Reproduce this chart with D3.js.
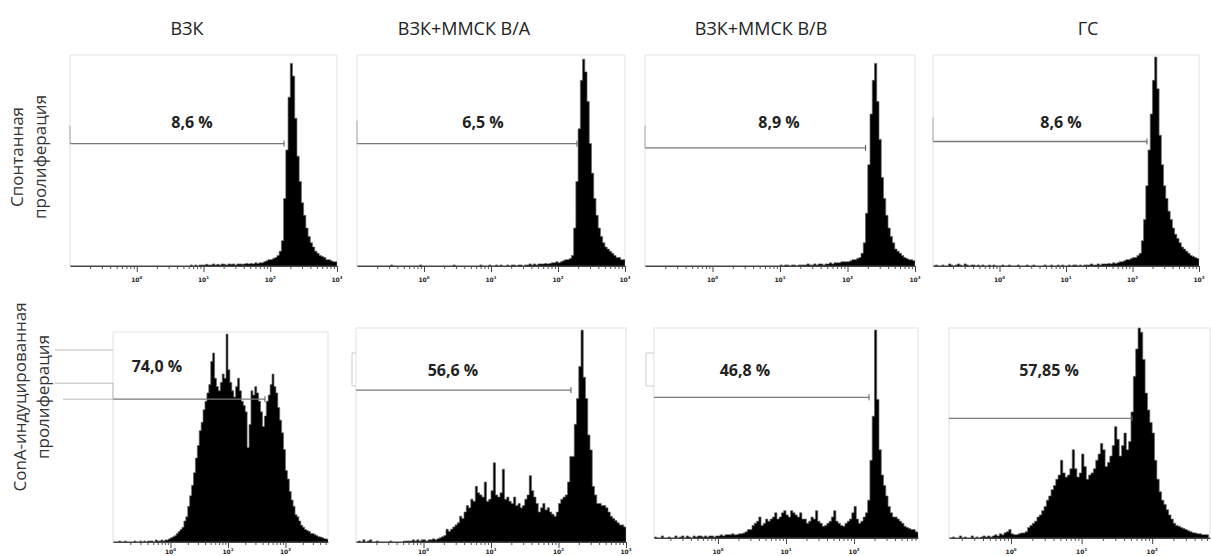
<!DOCTYPE html>
<html><head><meta charset="utf-8">
<script src="https://cdn.jsdelivr.net/npm/d3@7"></script>
<style>body{margin:0;background:#fff;} svg{display:block;} text{-webkit-font-smoothing:antialiased;}</style>
</head><body>
<svg id="c" width="1211" height="556"></svg>
<script>
// ---------- DATA ----------
const columnTitles = ["ВЗК", "ВЗК+ММСК В/А", "ВЗК+ММСК В/В", "ГС"];
const rowTitles = [["Спонтанная", "пролиферация"], ["ConA-индуцированная", "пролиферация"]];
const gatePercent = ["8,6 %", "6,5 %", "8,9 %", "8,6 %", "74,0 %", "56,6 %", "46,8 %", "57,85 %"];
const gateEnd = [161, 192, 185, 165, 44, 153, 166, 52];      // fluorescence (a.u.)
const gateLevel = [58, 58, 56, 59, 68, 71, 67, 57];           // % of max count
const tickExponents = [0, 1, 2, 3];
const binsPerDecade = 30;   // histogram bins start at 10^-1
const binStartExp = -1;

const histSpont1 = [0,0,0,0,0,0,0,0,0,0, 0,0,0,0,0,0,0,0,0,0, 0,0,0,0,0,0,0,0,0,0, 0,0,0,0,0,0,0,0,0,0, 0,0,0,0,0,0,0,0,0,0,
  0,0,0,0,0.5,0,0.5,0,0.5,0.5, 0.5,0.8,0.5,0.5,1,0.5,0.8,0.5,1,0.8, 0.5,1,0.8,1,0.5,1,1,0.8,1,1.2,
  1,1.2,1,1.5,1.2,1.5,1.5,2,2.5,3, 3,3.5,4,5,7,12,32,55,80,96, 90,70,52,40,30,24,18,14,11,9, 7,6,5,4.5,4,3,3,2.5,2,2];
const histSpont2 = [0,0,0,0,0,0,0,0,0,0, 0,0,0,0,0,0.5,0,0,0,0, 0,0,0,0,0,0,0,0,0.5,0, 0,0,0,0,0,0,0,0,0,0, 0,0,0,0.5,0,0,0,0,0,0,
  0,0,0,0,0,0.5,0,0,0,0.5, 0,0,0.5,0,0.5,0,0,0.5,0,0.5, 0.5,0,0.5,0.5,0,0.5,0.5,1,0.5,1,
  0.5,1,1,1,1.2,1,1.2,1.5,1.5,2, 1.5,2,2.5,3,3,3.5,5,18,40,65, 88,98,92,78,58,44,32,24,18,14, 11,9,8,7,6,5,4,4,3,3];
const histSpont3 = [0,0,0,0,0,0,0,0,0,0, 0,0,0,0,0,0,0,0,0,0, 0,0,0,0,0,0,0,0,0,0, 0,0,0,0,0,0,0,0,0,0, 0,0,0,0,0,0,0,0,0,0,
  0,0,0,0,0,0,0,0,0,0, 0.5,0,0.5,0.5,0,0.5,0.5,0,0.5,0.5, 0.5,0.5,1,0.5,0.5,1,0.5,1,1,0.5,
  1,1,1.5,1,1.5,1.5,1.5,2,2,2, 2,2.5,3,3,3.5,4,6,11,25,48, 72,88,96,78,60,42,32,24,18,14, 11,8,7,6,5,4,3.5,3,3,2.5];
const histSpont4 = [0,0.5,0,0,0.5,0,0,1,0.5,0, 0.5,1,0.5,0,1,0.5,0,0.5,0.5,0, 0.5,0,0.5,0,0,0.5,0,0.5,0,0, 0,0.5,0,0,0.5,0,0,0,0.5,0, 0,0,0.5,0,0,0.5,0,0,0,0,
  0.5,0,0,0.5,0,0,0.5,0,0.5,0, 0,0.5,0,0.5,0.5,0,0.5,0,0.5,0.5, 0.5,1,0.5,0.5,1,0.5,1,1,1,1.2,
  1,1.5,1.2,1.5,2,2,2.5,3,3,3.5, 4,4,5,6,12,22,38,55,72,88, 99,84,62,48,38,32,26,22,18,15, 13,11,9,8,7,6,5,4.5,4,3.5];

const histConA1 = [0,0,0,0.5,0,0,0.5,0,0,0, 0,0.5,0,0,0.5,0,0.5,0,0.5,0.5, 0.5,0,1,0.5,0.5,1,0.5,1,1,1.5,
  2,2.5,3,4,5,6,7,10,12,17, 22,27,33,40,46,53,57,63,67,71, 75,86,90,78,74,72,76,80,78,99,
  82,76,72,69,74,78,72,67,65,62, 45,56,72,70,74,71,67,62,55,60, 67,70,75,80,74,71,64,58,52,44,
  34,30,24,20,17,13,12,10,8,7, 6,5.5,5,4,4,3.5,3,2.5,2.4,2, 1.6,1.4,1.2];
const histConA2 = [0,0.5,0,1,0,0.5,1,0,0,0.5, 0,0,0,0,0,0.5,0,0,0,0, 0,0.5,0.5,0.5,0.5,1,0.5,1,0.5,1,
  1,0.5,1,1,1.5,1,1.5,2,2.5,3, 6,5,6,7,8,9,12,11,14,17, 16,20,19,26,23,22,21,28,19,20,
  24,37,22,21,23,34,20,21,19,18, 21,17,18,16,17,20,22,31,24,21, 18,14,16,18,15,16,14,13,12,14,
  18,20,21,22,28,40,40,55,67,82, 99,77,67,50,43,26,22,18,18,17, 17,16,14,12,11,10,9,8,8,7];
const histConA3 = [0,0,0.5,0,0,1,0,0,0.5,0, 0,1,0,0.5,1,0,1,0.5,0,1, 0.5,1,1,0.5,1,0.5,1,1,0.5,1,
  1,1.5,1,1.5,1.6,1.5,2,1.5,1.6,2, 2,2.4,3,4,4,6,7,8,10,6, 7,9,8,9,10,12,9,10,12,13,
  11,10,13,12,11,10,12,9,9,7, 8,10,9,13,8,7,5.6,6,7,8, 10,13,8,7,6,5.6,7,8,9,12,
  15,9,7,8,10,12,18,37,58,99, 66,42,30,25,20,15,12,10,10,9, 8,7,5.6,5,4.5,4,4,3,2.4,2];
const histConA4 = [0,0,0,0,0,0.5,0,0,1,0, 0.5,0,0,1,0,0.5,0,0.5,1,0.5, 1,0.5,1,1.5,1,2,1.5,2.5,3,4,
  2,1.6,1.6,2,2.4,2.4,3,5,6,7, 8,10,11,13,15,18,20,23,25,28, 30,37,31,29,30,33,42,33,29,31,
  40,34,28,30,31,33,37,40,45,42, 34,36,39,44,53,47,39,44,50,42, 46,60,77,90,100,98,85,69,61,55,
  50,37,28,22,18,16,13.5,11,9,7, 6,5.6,5,4.5,4,3.5,3,2.5,2.4,2, 2,1.6,1.6,1.5,0,0,0,0,0,0];

const histograms = [histSpont1, histSpont2, histSpont3, histSpont4, histConA1, histConA2, histConA3, histConA4];

// ---------- LAYOUT ----------
const panels = [
  {x0:70,  x1:337,  e0:-1, e1:3,    top:55,  base:266, lx:192,  ly:128, leftMark:18},
  {x0:357, x1:625,  e0:-1, e1:3,    top:55,  base:266, lx:483,  ly:128, leftMark:23},
  {x0:645, x1:915,  e0:-1, e1:3,    top:55,  base:266, lx:779,  ly:128, leftMark:22},
  {x0:933, x1:1199, e0:-1, e1:3,    top:55,  base:266, lx:1061, ly:128, leftMark:24},
  {x0:113, x1:328,  e0:-1, e1:2.74, top:332, base:542, lx:157,  ly:372},
  {x0:356, x1:626,  e0:-1, e1:3,    top:328, base:542, lx:453,  ly:376, bracket:[4,353,386]},
  {x0:654, x1:918,  e0:-0.94, e1:2.94, top:328, base:538, lx:745, ly:376, bracket:[8,353,386]},
  {x0:949, x1:1210, e0:-0.88, e1:2.82, top:328, base:538, lx:1049, ly:376}
];
const titleX = [187, 464, 761, 1088];

const svg = d3.select("#c");
const defs = svg.append("defs");

// column titles
svg.selectAll("text.title").data(columnTitles).join("text")
  .attr("class","title").attr("x",(d,i)=>titleX[i]).attr("y",35)
  .attr("text-anchor","middle").attr("font-family","Open Sans, sans-serif")
  .attr("font-size",18).attr("fill","#222").text(d=>d);

// row titles
const rowCenterY = [157, 397];
const rowBaseX = [[23,46],[26,49]];
rowTitles.forEach((lines, r) => {
  lines.forEach((t, k) => {
    svg.append("text")
      .attr("transform", `translate(${rowBaseX[r][k]},${rowCenterY[r]}) rotate(-90)`)
      .attr("text-anchor","middle").attr("font-family","Open Sans, sans-serif")
      .attr("font-size",17).attr("fill","#333").text(t);
  });
});

panels.forEach((p, i) => {
  const g = svg.append("g");
  const x = d3.scaleLog().domain([10 ** p.e0, 10 ** p.e1]).range([p.x0, p.x1]);
  const y = d3.scaleLinear().domain([0, 100]).range([p.base, p.top]);
  const clipId = "clip" + i;
  defs.append("clipPath").attr("id", clipId).append("rect")
    .attr("x", p.x0).attr("y", p.top - 2).attr("width", p.x1 - p.x0).attr("height", p.base - p.top + 2);

  // frame
  g.append("rect").attr("x", p.x0).attr("y", p.top).attr("width", p.x1 - p.x0).attr("height", p.base - p.top)
    .attr("fill", "none").attr("stroke", "#e2e2e2").attr("stroke-width", 1);

  // histogram
  const h = histograms[i];
  const pts = h.map((v, j) => ({e: binStartExp + j / binsPerDecade, v}));
  pts.push({e: binStartExp + h.length / binsPerDecade, v: h[h.length - 1]});
  const area = d3.area().curve(d3.curveStepAfter)
    .x(d => x(10 ** d.e)).y0(y(0)).y1(d => y(d.v));
  g.append("path").datum(pts).attr("clip-path", `url(#${clipId})`)
    .attr("d", area).attr("fill", "#000").attr("stroke", "#666").attr("stroke-width", 0.7);

  // axis: minor ticks
  const minors = [];
  for (let d = Math.floor(p.e0); d <= Math.ceil(p.e1); d++) {
    for (let k = 2; k <= 9; k++) {
      const v = k * 10 ** d;
      if (v > 10 ** p.e0 && v < 10 ** p.e1) minors.push(v);
    }
  }
  const majors = tickExponents.map(e => 10 ** e).filter(v => v >= 10 ** p.e0 && v <= 10 ** p.e1 * 1.0001);
  g.append("g").attr("transform", `translate(0,${p.base})`)
    .call(d3.axisBottom(x).tickValues(minors).tickSize(3).tickFormat("").tickSizeOuter(0))
    .call(s => { s.select(".domain").remove(); s.selectAll("line").attr("stroke", "#555"); });
  const ax = g.append("g").attr("transform", `translate(0,${p.base})`)
    .call(d3.axisBottom(x).tickValues(majors).tickSize(6).tickFormat("").tickSizeOuter(0));
  ax.select(".domain").attr("stroke", "#444").attr("stroke-width", 1.2);
  ax.selectAll("line").attr("stroke", "#444");
  // tick labels 10^n
  const labelY = Math.min(p.base + 16, 554);
  majors.forEach(v => {
    const t = g.append("text").attr("x", x(v)).attr("y", labelY)
      .attr("text-anchor", "middle").attr("font-family", "DejaVu Sans, sans-serif")
      .attr("font-size", 6).attr("font-weight", "bold").attr("fill", "#222");
    t.append("tspan").text("10");
    t.append("tspan").attr("dy", -3).attr("font-size", 4).text(String(Math.round(Math.log10(v))));
  });

  // gate marker
  const gx = x(gateEnd[i]), gy = y(gateLevel[i]);
  g.append("line").attr("x1", p.x0).attr("x2", gx).attr("y1", gy).attr("y2", gy)
    .attr("stroke", "#7a7a7a").attr("stroke-width", 1.3);
  g.append("line").attr("x1", gx).attr("x2", gx).attr("y1", gy - 3).attr("y2", gy + 3)
    .attr("stroke", "#555").attr("stroke-width", 1);
  if (p.leftMark) {
    g.append("line").attr("x1", p.x0).attr("x2", p.x0).attr("y1", gy - p.leftMark).attr("y2", gy)
      .attr("stroke", "#aaa").attr("stroke-width", 1);
  }
  if (p.bracket) {
    const [dx, y1, y2] = p.bracket;
    g.append("path").attr("d", `M${p.x0},${y1}H${p.x0 - dx}V${y2}H${p.x0}`)
      .attr("fill", "none").attr("stroke", "#ccc").attr("stroke-width", 1);
  }
  if (i === 4) {
    // remnants of a label box left of the first ConA panel
    g.append("path").attr("d", `M${p.x0 - 58},350H${p.x0}M${p.x0 - 58},${gy - 16}H${p.x0}V${gy}M${p.x0 - 50},${gy}H${p.x0}`)
      .attr("fill", "none").attr("stroke", "#bbb").attr("stroke-width", 1);
  }

  // percentage label
  g.append("text").attr("x", p.lx).attr("y", p.ly).attr("text-anchor", "middle")
    .attr("font-family", "Open Sans, sans-serif").attr("font-weight", "bold")
    .attr("font-size", 16).attr("fill", "#222").text(gatePercent[i]);
});
</script>
</body></html>
